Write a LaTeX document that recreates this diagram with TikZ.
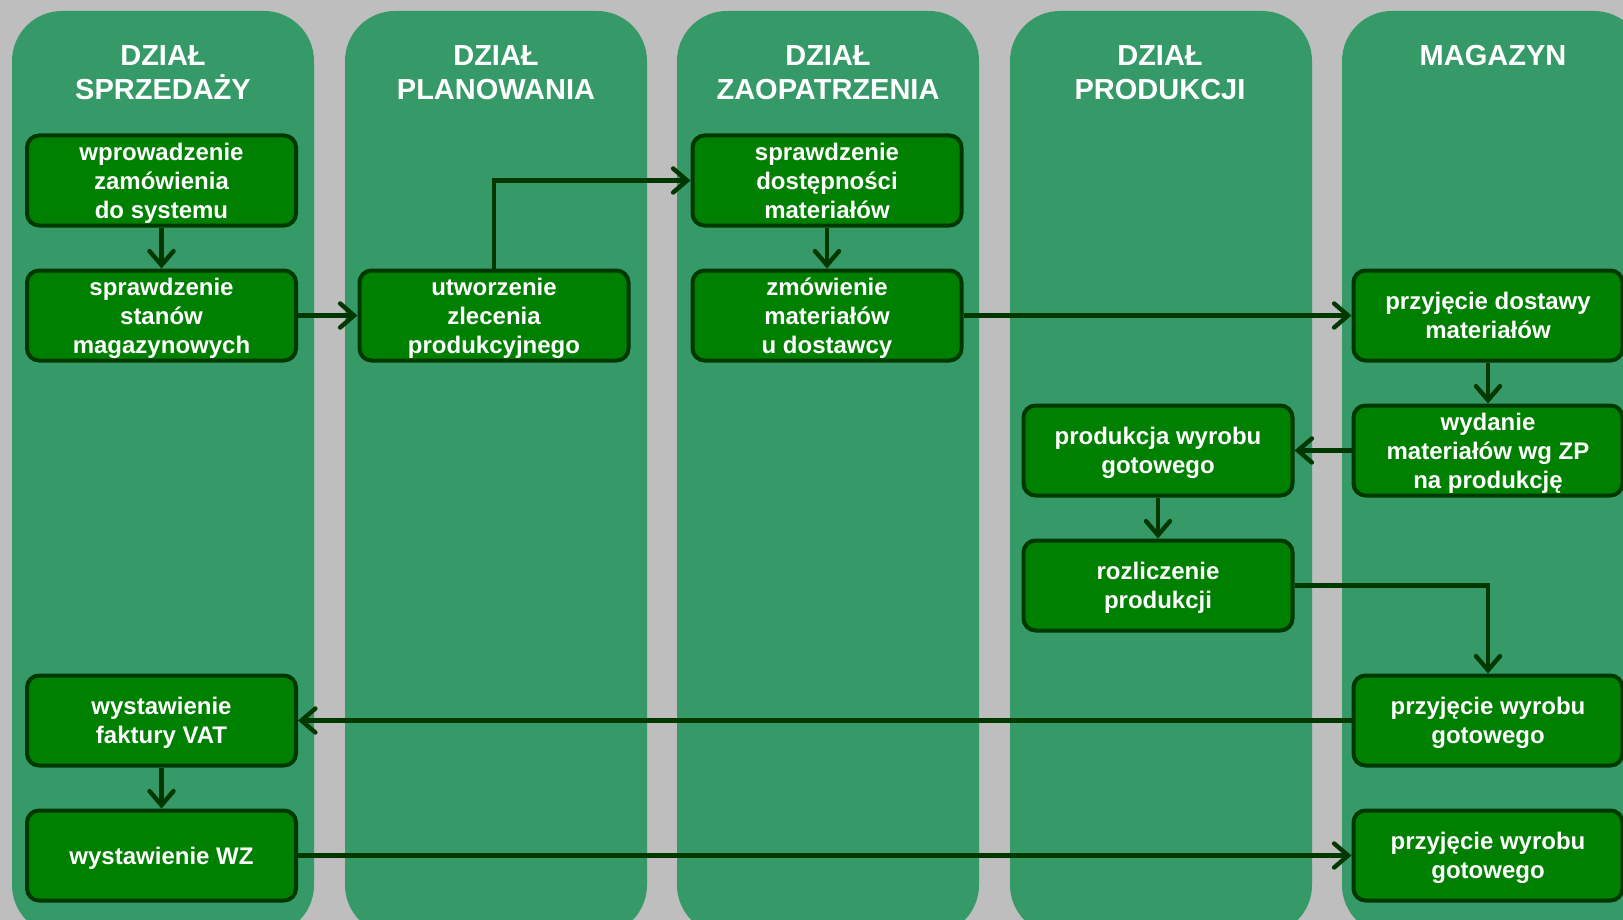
\documentclass[tikz,border=0pt]{standalone}
\usepackage{fontspec}
\setmainfont{Liberation Sans}
\usetikzlibrary{arrows.meta}

\definecolor{pagegray}{RGB}{190,190,190}
\definecolor{lanegreen}{RGB}{53,154,104}
\definecolor{boxgreen}{RGB}{0,128,0}
\definecolor{darkline}{RGB}{0,56,0}

\begin{document}
\begin{tikzpicture}[x=0.5pt,y=-0.5pt,
    lane/.style={fill=lanegreen, rounded corners=25pt},
    head/.style={text=white, font=\bfseries\fontsize{14.5}{17}\selectfont,
        align=center, anchor=north, inner sep=0pt},
    task/.style={draw=darkline, line width=2pt, fill=boxgreen, rounded corners=6pt,
        text=white, font=\bfseries\fontsize{12}{14.5}\selectfont, align=center,
        text depth=0pt, minimum width=134.5pt, minimum height=45pt, inner sep=0pt},
    flow/.style={draw=darkline, line width=2.2pt,
        -{Straight Barb[length=7pt,width=12pt,line cap=round]}}]

    % Fix the page and the gray background
    \useasboundingbox (0,0) rectangle (1623,920);
    \clip (0,0) rectangle (1623,920);
    \fill[pagegray] (0,0) rectangle (1623,920);

    % Draw the five lanes
    \foreach \x in {12,345,677,1010,1342}
        \fill[lane] (\x,11) rectangle ({\x+302},935);

    % Lane headers
    \node[head] (sales) at (163,45) {DZIAŁ\\SPRZEDAŻY};
    \node[head] (plan) at (496,45) {DZIAŁ\\PLANOWANIA};
    \node[head] (supply) at (828,45) {DZIAŁ\\ZAOPATRZENIA};
    \node[head] (prod) at (1160,45) {DZIAŁ\\PRODUKCJI};
    \node[head] (store) at (1493,45) {MAGAZYN};

    % Tasks of the sales department
    \node[task] (order) at (161.5,180.5) {wprowadzenie\\zamówienia\\do systemu};
    \node[task] (stock) at (161.5,315.5) {sprawdzenie\\stanów\\magazynowych};
    \node[task] (invoice) at (161.5,720.5) {wystawienie\\faktury VAT};
    \node[task] (wz) at (161.5,855.5) {wystawienie WZ};

    % Tasks of planning and supply
    \node[task] (prodorder) at (494,315.5) {utworzenie\\zlecenia\\produkcyjnego};
    \node[task] (check) at (827,180.5) {sprawdzenie\\dostępności\\materiałów};
    \node[task] (purchase) at (827,315.5) {zmówienie\\materiałów\\u dostawcy};

    % Tasks of production
    \node[task] (make) at (1158,450.5) {produkcja wyrobu\\gotowego};
    \node[task] (settle) at (1158,585.5) {rozliczenie\\produkcji};

    % Tasks of the store
    \node[task] (delivery) at (1488,315.5) {przyjęcie dostawy\\materiałów};
    \node[task] (issue) at (1488,450.5) {wydanie\\materiałów wg ZP\\na produkcję};
    \node[task] (goods) at (1488,720.5) {przyjęcie wyrobu\\gotowego};
    \node[task] (goodsout) at (1488,855.5) {przyjęcie wyrobu\\gotowego};

    % Connect the tasks
    \draw[flow] (order) -- (stock);
    \draw[flow] (stock) -- (prodorder);
    \draw[flow] (prodorder.north) |- (check.west);
    \draw[flow] (check) -- (purchase);
    \draw[flow] (purchase) -- (delivery);
    \draw[flow] (delivery) -- (issue);
    \draw[flow] (issue) -- (make);
    \draw[flow] (make) -- (settle);
    \draw[flow] (settle.east) -| (goods.north);
    \draw[flow] (goods) -- (invoice);
    \draw[flow] (invoice) -- (wz);
    \draw[flow] (wz) -- (goodsout);
\end{tikzpicture}
\end{document}
